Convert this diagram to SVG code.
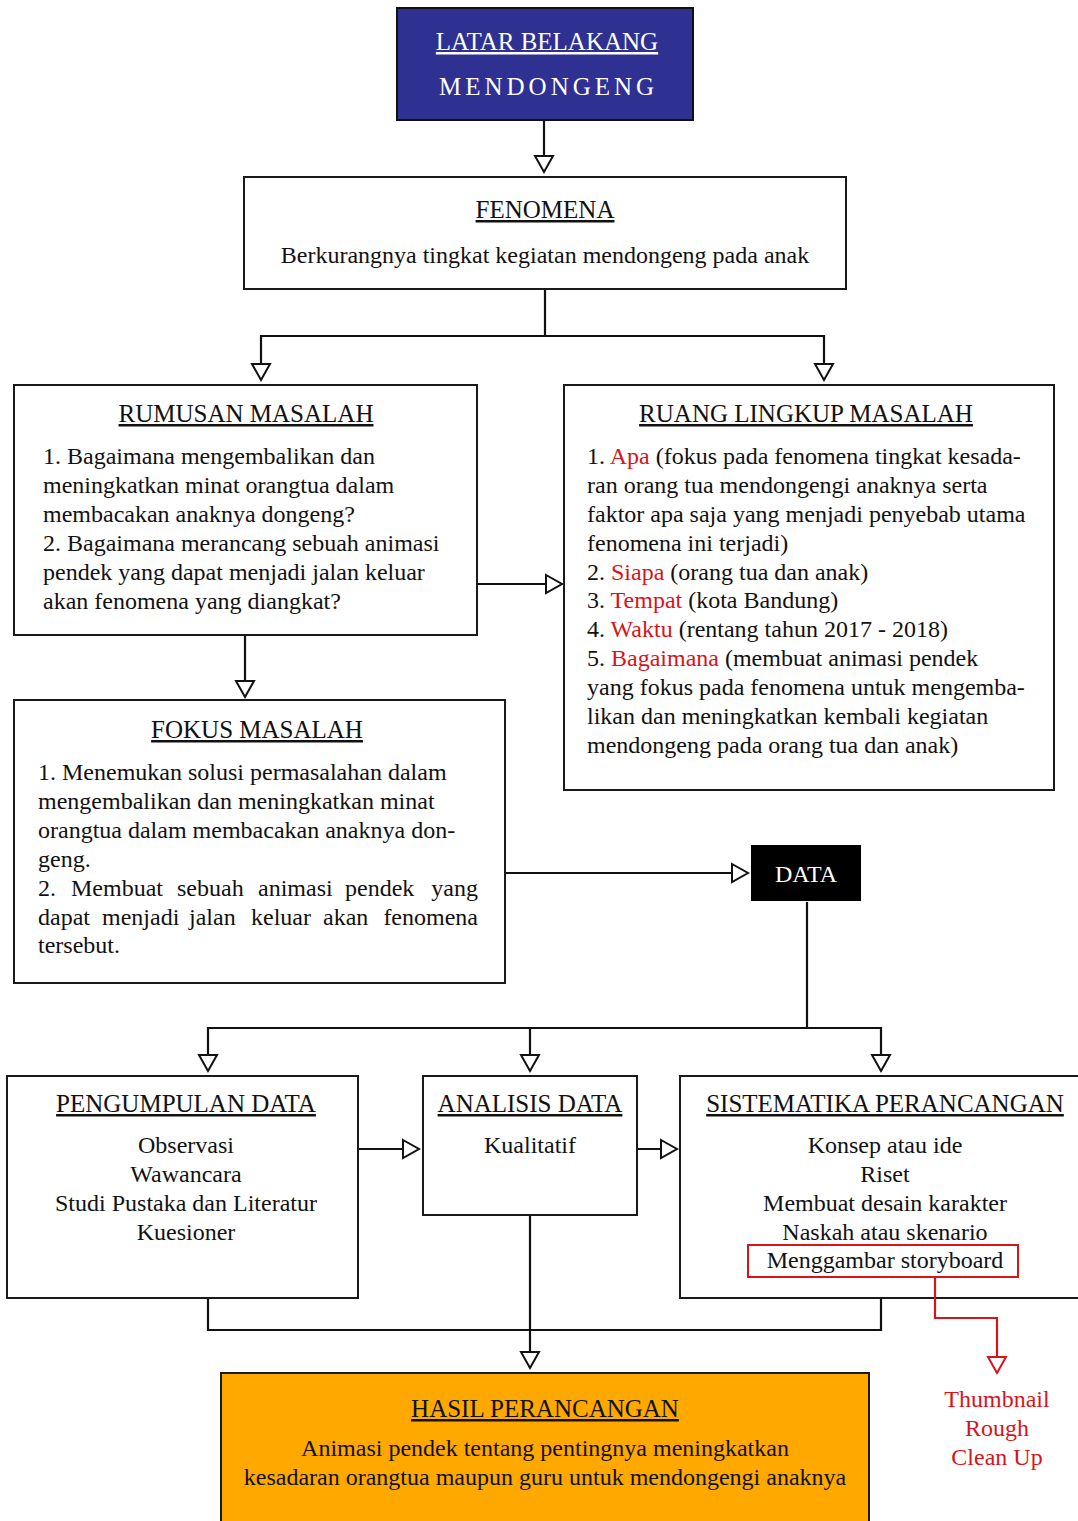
<svg xmlns="http://www.w3.org/2000/svg" width="1078" height="1521" viewBox="0 0 1078 1521">
<style>
text{font-family:"Liberation Serif","Times New Roman",serif;font-size:24px;fill:#111}
.t{font-size:25px;text-decoration:underline}
.c{text-anchor:middle}
.e{text-anchor:end}
.box{fill:#fff;stroke:#1a1a1a;stroke-width:2}
.ln{fill:none;stroke:#111;stroke-width:2.2}
.rl{fill:none;stroke:#d7141a;stroke-width:2.2}
.r{fill:#d7141a}
.w{fill:#fff}
</style>
<defs>
<marker id="ah" markerUnits="userSpaceOnUse" markerWidth="24" markerHeight="24" viewBox="-2 -2 24 24" refX="17" refY="10" orient="auto">
<path d="M1,1 L17,10 L1,19 Z" fill="#fff" stroke="#111" stroke-width="2"/>
</marker>
<marker id="ahr" markerUnits="userSpaceOnUse" markerWidth="24" markerHeight="24" viewBox="-2 -2 24 24" refX="17" refY="10" orient="auto">
<path d="M1,1 L17,10 L1,19 Z" fill="#fff" stroke="#d7141a" stroke-width="2"/>
</marker>
</defs>
<rect width="1078" height="1521" fill="#fff"/>

<g id="latar">
<rect x="397" y="8" width="296" height="112" fill="#2e3192" stroke="#111" stroke-width="2"/>
<text class="t c w" x="547" y="50">LATAR BELAKANG</text>
<text class="w" x="439" y="95" style="font-size:25px;letter-spacing:4px">MENDONGENG</text>
</g>

<g id="fenomena">
<rect class="box" x="244" y="177" width="602" height="112"/>
<text class="t c" x="545" y="218">FENOMENA</text>
<text class="c" x="545" y="263">Berkurangnya tingkat kegiatan mendongeng pada anak</text>
</g>

<g id="rumusan">
<rect class="box" x="14" y="385" width="463" height="250"/>
<text class="t c" x="246" y="422">RUMUSAN MASALAH</text>
<text x="43" y="464">1. Bagaimana mengembalikan dan</text>
<text x="43" y="493">meningkatkan minat orangtua dalam</text>
<text x="43" y="522">membacakan anaknya dongeng?</text>
<text x="43" y="551">2. Bagaimana merancang sebuah animasi</text>
<text x="43" y="580">pendek yang dapat menjadi jalan keluar</text>
<text x="43" y="609">akan fenomena yang diangkat?</text>
</g>

<g id="ruang">
<rect class="box" x="564" y="385" width="490" height="405"/>
<text class="t c" x="806" y="422">RUANG LINGKUP MASALAH</text>
<text x="587" y="464">1. <tspan class="r">Apa</tspan> (fokus pada fenomena tingkat kesada-</text>
<text x="587" y="493">ran orang tua mendongengi anaknya serta</text>
<text x="587" y="522">faktor apa saja yang menjadi penyebab utama</text>
<text x="587" y="551">fenomena ini terjadi)</text>
<text x="587" y="580">2. <tspan class="r">Siapa</tspan> (orang tua dan anak)</text>
<text x="587" y="608">3. <tspan class="r">Tempat</tspan> (kota Bandung)</text>
<text x="587" y="637">4. <tspan class="r">Waktu</tspan> (rentang tahun 2017 - 2018)</text>
<text x="587" y="666">5. <tspan class="r">Bagaimana</tspan> (membuat animasi pendek</text>
<text x="587" y="695">yang fokus pada fenomena untuk mengemba-</text>
<text x="587" y="724">likan dan meningkatkan kembali kegiatan</text>
<text x="587" y="753">mendongeng pada orang tua dan anak)</text>
</g>

<g id="fokus">
<rect class="box" x="14" y="700" width="491" height="283"/>
<text class="t c" x="257" y="738">FOKUS MASALAH</text>
<text x="38" y="780">1. Menemukan solusi permasalahan dalam</text>
<text x="38" y="809">mengembalikan dan meningkatkan minat</text>
<text x="38" y="838">orangtua dalam membacakan anaknya don-</text>
<text x="38" y="867">geng.</text>
<text y="896"><tspan x="38">2.</tspan><tspan x="71">Membuat</tspan><tspan x="177">sebuah</tspan><tspan x="258">animasi</tspan><tspan x="345">pendek</tspan></text>
<text class="e" x="478" y="896">yang</text>
<text y="925"><tspan x="38">dapat</tspan><tspan x="102">menjadi</tspan><tspan x="189">jalan</tspan><tspan x="251">keluar</tspan><tspan x="323">akan</tspan></text>
<text class="e" x="478" y="925">fenomena</text>
<text x="38" y="953">tersebut.</text>
</g>

<g id="data">
<rect x="751" y="845" width="110" height="56" fill="#000"/>
<text class="c w" x="806" y="882">DATA</text>
</g>

<g id="pengumpulan">
<rect class="box" x="7" y="1076" width="351" height="222"/>
<text class="t c" x="186" y="1112">PENGUMPULAN DATA</text>
<text class="c" x="186" y="1153">Observasi</text>
<text class="c" x="186" y="1182">Wawancara</text>
<text class="c" x="186" y="1211">Studi Pustaka dan Literatur</text>
<text class="c" x="186" y="1240">Kuesioner</text>
</g>

<g id="analisis">
<rect class="box" x="423" y="1076" width="214" height="139"/>
<text class="t c" x="530" y="1112">ANALISIS DATA</text>
<text class="c" x="530" y="1153">Kualitatif</text>
</g>

<g id="sistematika">
<rect class="box" x="680" y="1076" width="410" height="222"/>
<text class="t c" x="885" y="1112">SISTEMATIKA PERANCANGAN</text>
<text class="c" x="885" y="1153">Konsep atau ide</text>
<text class="c" x="885" y="1182">Riset</text>
<text class="c" x="885" y="1211">Membuat desain karakter</text>
<text class="c" x="885" y="1240">Naskah atau skenario</text>
<rect x="748" y="1245" width="270" height="32" fill="none" stroke="#d7141a" stroke-width="2"/>
<text class="c" x="885" y="1268">Menggambar storyboard</text>
</g>

<g id="storyboard-steps">
<text class="c r" x="997" y="1407">Thumbnail</text>
<text class="c r" x="997" y="1436">Rough</text>
<text class="c r" x="997" y="1465">Clean Up</text>
</g>

<g id="hasil">
<rect x="221" y="1373" width="648" height="160" fill="#ffa800" stroke="#1a1a1a" stroke-width="2"/>
<text class="t c" x="545" y="1417">HASIL PERANCANGAN</text>
<text class="c" x="545" y="1456">Animasi pendek tentang pentingnya meningkatkan</text>
<text class="c" x="545" y="1485">kesadaran orangtua maupun guru untuk mendongengi anaknya</text>
</g>

<g id="connectors">
<path class="ln" d="M544,121 V172" marker-end="url(#ah)"/>
<path class="ln" d="M545,290 V336 H261 V380" marker-end="url(#ah)"/>
<path class="ln" d="M545,336 H824 V380" marker-end="url(#ah)"/>
<path class="ln" d="M478,584 H562" marker-end="url(#ah)"/>
<path class="ln" d="M245,636 V697" marker-end="url(#ah)"/>
<path class="ln" d="M506,873 H748" marker-end="url(#ah)"/>
<path class="ln" d="M807,902 V1028 H208 V1071" marker-end="url(#ah)"/>
<path class="ln" d="M530,1028 V1071" marker-end="url(#ah)"/>
<path class="ln" d="M807,1028 H881 V1071" marker-end="url(#ah)"/>
<path class="ln" d="M359,1149 H419" marker-end="url(#ah)"/>
<path class="ln" d="M638,1149 H677" marker-end="url(#ah)"/>
<path class="ln" d="M208,1299 V1330 H881 V1299"/>
<path class="ln" d="M530,1216 V1368" marker-end="url(#ah)"/>
<path class="rl" d="M935,1278 V1318 H997 V1373" marker-end="url(#ahr)"/>
</g>
</svg>
